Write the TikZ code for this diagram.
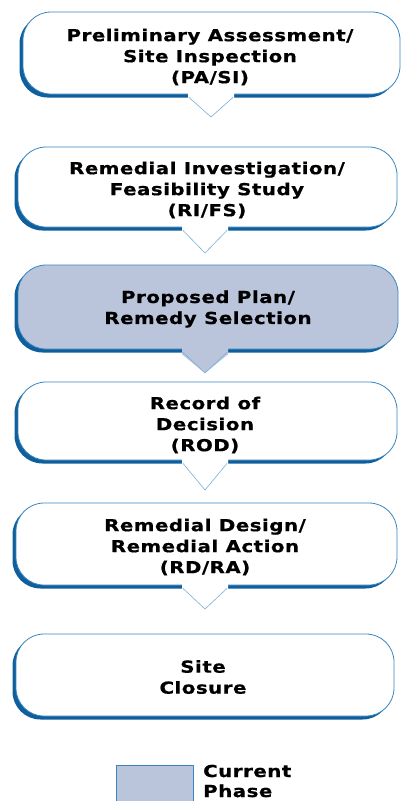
\documentclass[tikz,border=0pt]{standalone}
\usepackage{fontspec}
\setmainfont{DejaVu Sans}[FakeStretch=1.2, LetterSpace=3, BoldFeatures={FakeBold=0.6}]
\usetikzlibrary{shadows}
\definecolor{dkblue}{HTML}{0F5F9C}
\definecolor{edgeblue}{HTML}{3A86C0}
\definecolor{ptrblue}{HTML}{7AB0D8}
\definecolor{phasefill}{HTML}{BAC5DC}
\tikzset{
  stage/.style={draw=edgeblue, line width=0.8pt, fill=white, rounded corners=28pt,
    inner sep=0pt,
    general shadow={fill=dkblue, shadow xshift=-3.5pt, shadow yshift=-3.5pt}},
  current/.style={stage, fill=phasefill},
  stagetext/.style={align=center, inner sep=0pt, font=\bfseries\fontsize{16.5}{21}\selectfont},
  ptrline/.style={draw=ptrblue, line width=0.6pt},
  legendtext/.style={anchor=west, align=left, inner sep=0pt, font=\bfseries\fontsize{16.5}{20}\selectfont}
}
\begin{document}
\begin{tikzpicture}[x=1pt, y=-1pt]
\useasboundingbox (0,0) rectangle (401,801);
% boxes
\node[stage, minimum width=377pt, minimum height=82pt] (pa) at (211.5,53) {};
\node[stage, minimum width=379pt, minimum height=80pt] (ri) at (207.5,187) {};
\node[current, minimum width=380pt, minimum height=84pt] (pp) at (208,307) {};
\node[stage, minimum width=379pt, minimum height=78pt] (rod) at (207.5,421) {};
\node[stage, minimum width=381pt, minimum height=82pt] (rd) at (206.5,544) {};
\node[stage, minimum width=378pt, minimum height=82pt] (sc) at (205,675) {};
% pointer tips
\coordinate (t1) at (211,117);
\coordinate (t2) at (205,253);
\coordinate (t3) at (205,373);
\coordinate (t4) at (205,490);
\coordinate (t5) at (205,609);
% pointers
\foreach \b/\t/\f in {pa/t1/white, ri/t2/white, pp/t3/phasefill, rod/t4/white, rd/t5/white}{
  \fill[\f] ([xshift=-23pt,yshift=2pt]\b.south -| \t) -- ([xshift=-23pt,yshift=-5pt]\b.south -| \t)
     -- (\t) -- ([xshift=23pt,yshift=-5pt]\b.south -| \t) -- ([xshift=23pt,yshift=2pt]\b.south -| \t) -- cycle;
  \draw[ptrline] ([xshift=-22pt,yshift=-3pt]\b.south -| \t) -- (\t) -- ([xshift=22pt,yshift=-3pt]\b.south -| \t);
}
% texts
\node[stagetext] (pa-t) at (210,57) {Preliminary Assessment/\\Site Inspection\\(PA/SI)};
\node[stagetext] (ri-t) at (207,190) {Remedial Investigation/\\Feasibility Study\\(RI/FS)};
\node[stagetext] (pp-t) at (208,309) {Proposed Plan/\\Remedy Selection};
\node[stagetext] (rod-t) at (205,425) {Record of\\Decision\\(ROD)};
\node[stagetext] (rd-t) at (205,547) {Remedial Design/\\Remedial Action\\(RD/RA)};
\node[stagetext] (sc-t) at (203,677) {Site\\Closure};
% legend
\node[draw=edgeblue, line width=0.8pt, fill=phasefill, minimum width=77pt, minimum height=40pt, inner sep=0pt] (key) at (154.5,785) {};
\node[legendtext] (keytext) at (203,781) {Current\\Phase};
\end{tikzpicture}
\end{document}
